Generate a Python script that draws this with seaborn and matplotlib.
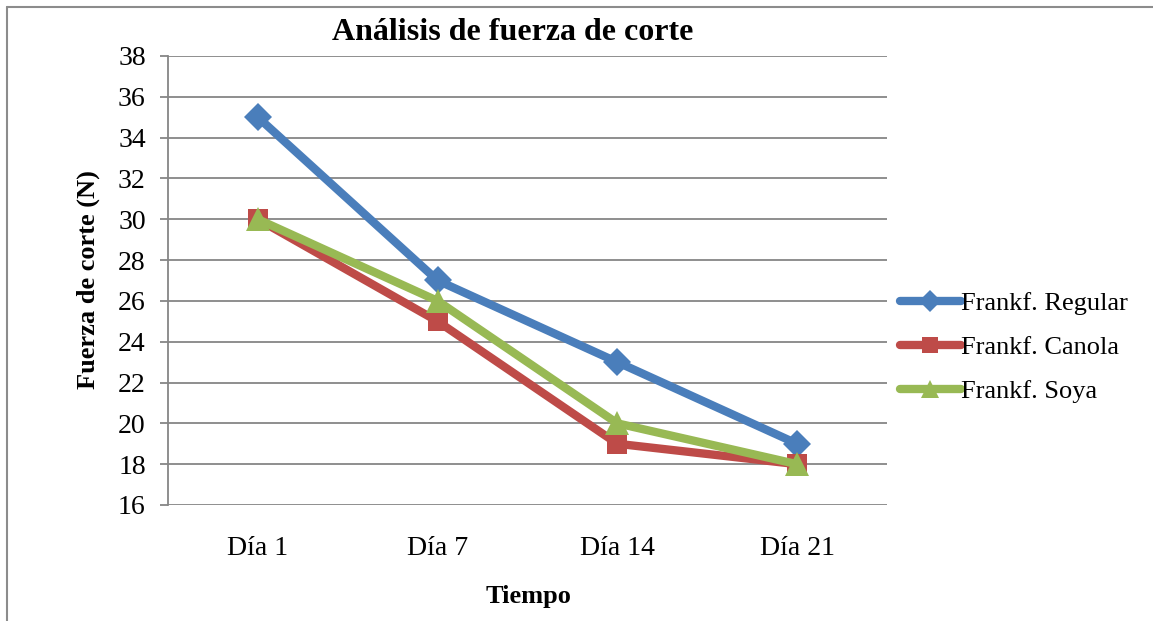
import matplotlib
matplotlib.use("Agg")
import matplotlib.pyplot as plt
from matplotlib.lines import Line2D
import pandas as pd
import seaborn as sns

# datos
dias = ["Día 1", "Día 7", "Día 14", "Día 21"]
regular = [35, 27, 23, 19]
canola = [30, 25, 19, 18]
soya = [30, 26, 20, 18]
series = ["Frankf. Regular", "Frankf. Canola", "Frankf. Soya"]
y_ticks = [16, 18, 20, 22, 24, 26, 28, 30, 32, 34, 36, 38]

colores = ["#4A7EBB", "#BE4B48", "#98B954"]
marcadores = ["D", "s", "^"]
tamanos = [14, 15, 17]

df = pd.DataFrame({"Tiempo": dias * 3,
                   "Fuerza": regular + canola + soya,
                   "Serie": [s for s in series for _ in dias]})
df["x"] = [dias.index(d) for d in df["Tiempo"]]

sns.set_style("white")
plt.rcParams["font.family"] = ["Liberation Serif", "DejaVu Serif"]
plt.rcParams["text.color"] = "black"
plt.rcParams["xtick.labelcolor"] = "black"
plt.rcParams["ytick.labelcolor"] = "black"

fig = plt.figure(figsize=(11.53, 6.21), dpi=100)
ax = fig.add_axes([168 / 1153, 1 - 505 / 621, (887 - 168) / 1153, (505 - 56) / 621])

for serie, col, mk, ms in zip(series, colores, marcadores, tamanos):
    sub = df[df["Serie"] == serie]
    sns.lineplot(data=sub, x="x", y="Fuerza", ax=ax, color=col, linewidth=6,
                 marker=mk, markersize=ms, markeredgewidth=0, label=serie,
                 solid_capstyle="round")

ax.set_xlim(-0.5, 3.5)
ax.set_ylim(16, 38)
ax.set_yticks(y_ticks)
ax.set_xticks(range(len(dias)))
ax.set_xticklabels(dias)
ax.grid(axis="y", color="#868686", linewidth=1.3)
ax.set_axisbelow(True)
for s in ["top", "right", "bottom"]:
    ax.spines[s].set_visible(False)
ax.spines["left"].set_color("#868686")
ax.spines["left"].set_linewidth(1.3)
ax.tick_params(axis="y", length=6, width=1.3, color="#868686", labelsize=20, pad=10, left=True)
ax.tick_params(axis="x", length=0, labelsize=20, pad=22)
ax.set_xlabel("")
ax.set_ylabel("")

fig.text(513 / 1153, 1 - 33 / 621, "Análisis de fuerza de corte", ha="center", va="center",
         fontsize=23, fontweight="bold")
fig.text(88 / 1153, 1 - 280 / 621, "Fuerza de corte (N)", ha="center", va="center",
         rotation=90, fontsize=19, fontweight="bold")
fig.text(528 / 1153, 1 - 596 / 621, "Tiempo", ha="center", va="center",
         fontsize=19, fontweight="bold")

leg = ax.legend(loc="center left", bbox_to_anchor=(1.018, 0.351), frameon=False,
                fontsize=19, handlelength=2.3, handletextpad=0.0, labelspacing=0.77,
                borderaxespad=0, borderpad=0, markerscale=0.8)

# borde del grafico
fig.add_artist(Line2D([7 / 1153, 7 / 1153], [0, 1 - 7 / 621], color="#8c8c8c", linewidth=1.5))
fig.add_artist(Line2D([7 / 1153, 1], [1 - 7 / 621, 1 - 7 / 621], color="#8c8c8c", linewidth=1.5))

fig.savefig("out.png", dpi=100)
